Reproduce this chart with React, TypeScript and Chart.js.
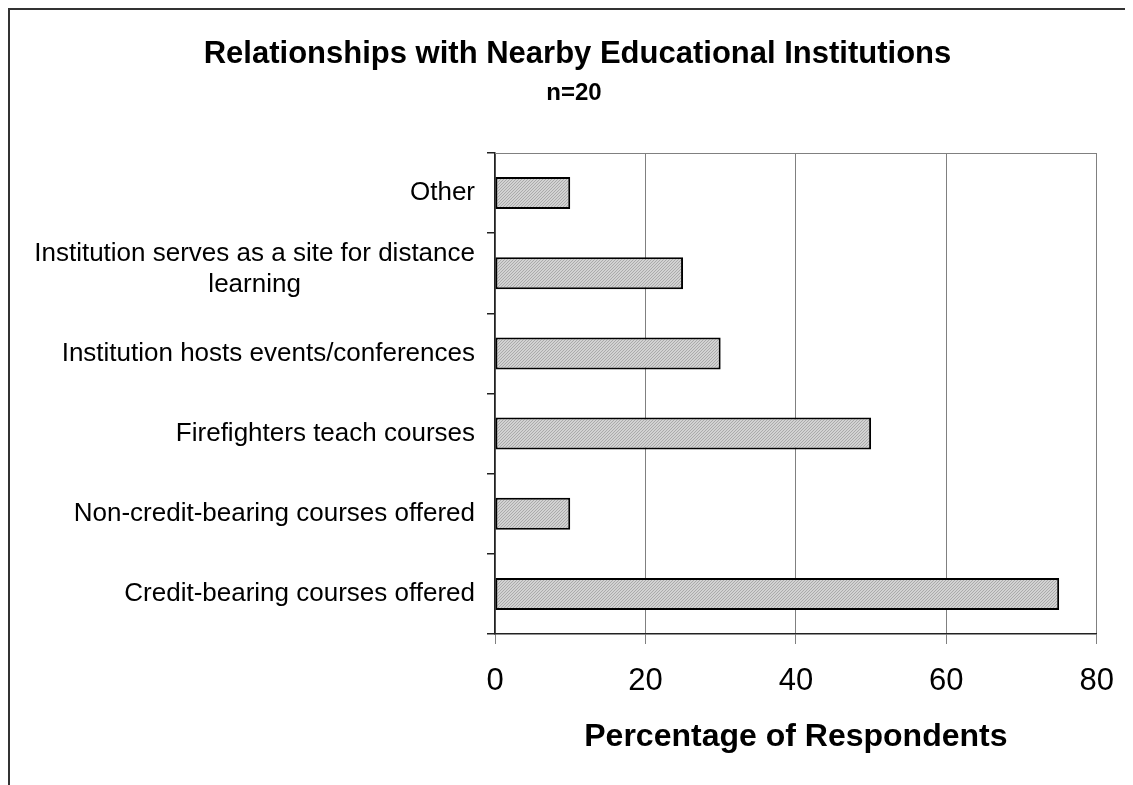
import React, { useEffect, useRef } from "react";
import { Chart, registerables } from "chart.js";

Chart.register(...registerables);

const categories: (string | string[])[] = [
  "Other",
  ["Institution serves as a site for distance", "learning"],
  "Institution hosts events/conferences",
  "Firefighters teach courses",
  "Non-credit-bearing courses offered",
  "Credit-bearing courses offered",
];
const percentages = [10, 25, 30, 50, 10, 75];
const xTickValues = [0, 20, 40, 60, 80];
const chartTitle = "Relationships with Nearby Educational Institutions";
const chartSubtitle = "n=20";
const xAxisTitle = "Percentage of Respondents";

const FONT = '"Liberation Sans", Arial, sans-serif';

function makePattern(): CanvasPattern | string {
  const c = document.createElement("canvas");
  c.width = 3;
  c.height = 3;
  const g = c.getContext("2d");
  if (!g) return "#c4c4c4";
  g.fillStyle = "#d2d2d2";
  g.fillRect(0, 0, 3, 3);
  g.fillStyle = "#aaaaaa";
  for (let i = 0; i < 3; i++) g.fillRect(i, 2 - i, 1, 1);
  const p = g.createPattern(c, "repeat");
  return p || "#c4c4c4";
}

const decorPlugin = {
  id: "decor",
  afterDraw(chart: any) {
    const ctx = chart.ctx as CanvasRenderingContext2D;
    const area = chart.chartArea;
    const yScale = chart.scales.y;
    ctx.save();
    // top border of plot area
    ctx.strokeStyle = "#808080";
    ctx.lineWidth = 1;
    ctx.beginPath();
    ctx.moveTo(area.left, Math.round(area.top) + 0.5);
    ctx.lineTo(area.right, Math.round(area.top) + 0.5);
    ctx.stroke();

    // titles
    ctx.fillStyle = "#000";
    ctx.textAlign = "center";
    ctx.textBaseline = "alphabetic";
    ctx.font = `bold 31px ${FONT}`;
    ctx.fillText(chartTitle, 567.5, 53);
    ctx.font = `bold 24px ${FONT}`;
    ctx.fillText(chartSubtitle, 564, 90);

    // category labels (right-aligned blocks, lines centred)
    ctx.font = `26px ${FONT}`;
    ctx.textBaseline = "middle";
    const right = area.left - 20;
    const lh = 31;
    categories.forEach((lab, i) => {
      const lines = Array.isArray(lab) ? lab : [lab];
      const w = Math.max(...lines.map((l) => ctx.measureText(l).width));
      const cx = right - w / 2;
      const cy = yScale.getPixelForValue(i);
      const start = cy - ((lines.length - 1) * lh) / 2 - (lines.length > 1 ? 4 : 0);
      lines.forEach((l, k) => ctx.fillText(l, cx, start + k * lh));
    });
    ctx.restore();
  },
};

export default function App() {
  const ref = useRef<HTMLCanvasElement | null>(null);

  useEffect(() => {
    document.documentElement.style.overflow = "hidden";
    const canvas = ref.current;
    if (!canvas) return;
    const pattern = makePattern();
    const chart = new Chart(canvas, {
      type: "bar",
      data: {
        labels: categories as any,
        datasets: [
          {
            data: percentages,
            backgroundColor: pattern as any,
            borderColor: "#000",
            borderWidth: 2,
            borderSkipped: false,
            barPercentage: 0.4,
            categoryPercentage: 1,
          },
        ],
      },
      options: {
        indexAxis: "y",
        responsive: false,
        animation: false,
        devicePixelRatio: 1,
        layout: { padding: { top: 143, right: 36, bottom: 0, left: 0 } },
        plugins: {
          legend: { display: false },
          tooltip: { enabled: false },
          title: { display: false },
        },
        scales: {
          y: {
            type: "category",
            offset: true,
            grid: {
              offset: true,
              drawOnChartArea: false,
              drawTicks: true,
              tickLength: 8,
              color: "#222",
              lineWidth: 1.5,
            },
            border: { display: true, color: "#222", width: 1.5 },
            ticks: { display: false },
            afterFit: (s: any) => {
              s.width = 485;
            },
          },
          x: {
            type: "linear",
            min: xTickValues[0],
            max: xTickValues[xTickValues.length - 1],
            afterBuildTicks: (s: any) => {
              s.ticks = xTickValues.map((v) => ({ value: v }));
            },
            grid: {
              color: "#808080",
              lineWidth: 1,
              tickLength: 10,
              drawTicks: true,
            },
            border: { display: true, color: "#222", width: 1.5 },
            ticks: {
              color: "#000",
              font: { family: FONT, size: 31 },
              padding: 19,
              maxRotation: 0,
            },
            title: {
              display: true,
              text: xAxisTitle,
              color: "#000",
              font: { family: FONT, size: 32, weight: "bold" },
              padding: { top: 0, bottom: 29 },
            },
            afterFit: (s: any) => {
              s.height = 151;
            },
          },
        },
      } as any,
      plugins: [decorPlugin],
    });
    return () => chart.destroy();
  }, []);

  return (
    <div
      style={{
        width: 1125,
        height: 777,
        boxSizing: "border-box",
        borderLeft: "2px solid #333",
        borderTop: "2px solid #333",
        background: "#fff",
      }}
    >
      <canvas ref={ref} width={1123} height={775} style={{ display: "block", width: 1123, height: 775 }} />
    </div>
  );
}
